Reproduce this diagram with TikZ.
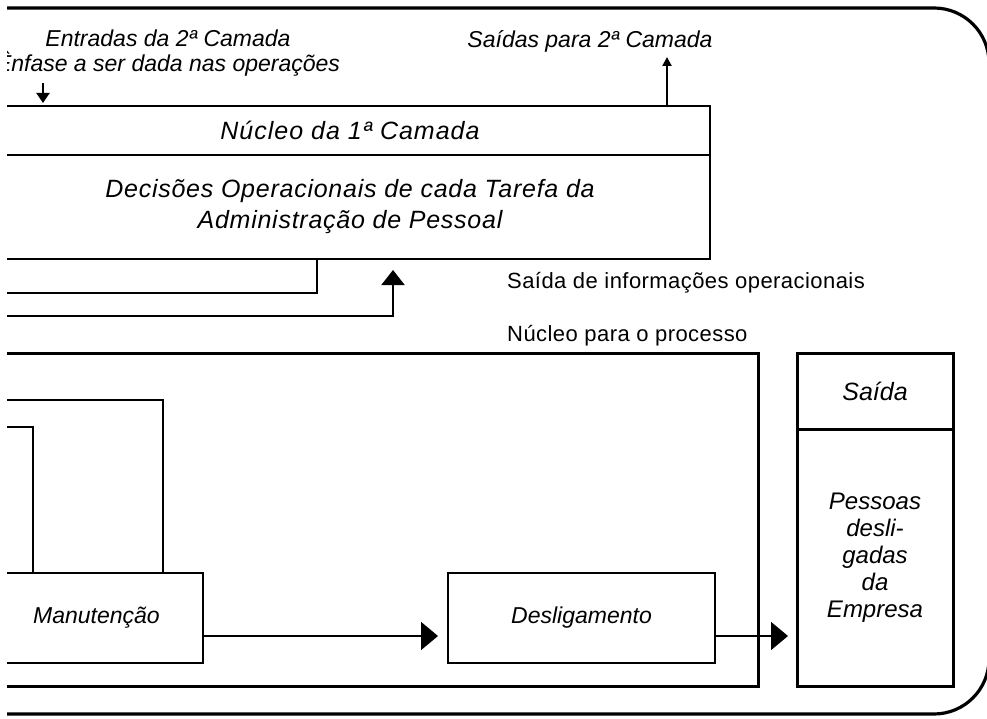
\documentclass[tikz,border=0pt]{standalone}
\usepackage{fontspec}
\setmainfont{Liberation Sans}
\newfontfamily\largoA[LetterSpace=4]{Liberation Sans}
\newfontfamily\largoB[LetterSpace=3]{Liberation Sans}
\newfontfamily\largoC[LetterSpace=2]{Liberation Sans}
\usetikzlibrary{positioning,arrows.meta}

\begin{document}
\begin{tikzpicture}[x=1pt,y=-1pt,
  caixa/.style={draw, line width=2.5pt, outer sep=0pt, inner sep=0pt, align=center},
  fio/.style={line width=2pt},
  seta/.style={line width=1.8pt, -{Triangle[length=17pt,width=28pt]}},
  rotulo/.style={font=\fontsize{23}{25}\selectfont\itshape, inner sep=0pt},
  texto/.style={font=\largoC\fontsize{22}{26}\selectfont, inner sep=0pt}]
\useasboundingbox (0,0) rectangle (987,719);
\clip (7,0) rectangle (987,719);
% moldura
\draw[line width=3.2pt, rounded corners=55pt] (-10,8) -- (989,8) -- (989,714) -- (-10,714);

% 1a camada
\node[caixa, line width=2.8pt, anchor=north west, minimum width=720pt, minimum height=49pt,
  font=\largoA\fontsize{25}{29}\selectfont\itshape] (nucleo1) at (-10,106) {Núcleo da 1ª Camada};
\node[caixa, line width=2.8pt, below=0pt of nucleo1, minimum width=720pt, minimum height=104pt,
  font=\largoB\fontsize{25}{31}\selectfont\itshape] (decisoes)
  {Decisões Operacionais de cada Tarefa da\\Administração de Pessoal};
\node[rotulo, align=center, anchor=north] (entradas) at (168,30)
  {Entradas da 2ª Camada\\Ênfase a ser dada nas operações};
\node[rotulo, anchor=base] (saidas) at (590,48) {Saídas para 2ª Camada};
\coordinate (entra) at (43,83);
\coordinate (sai) at (667,57);
\draw[fio, -{Triangle[length=10pt,width=13pt]}, shorten >=3pt] (entra) -- (entra |- nucleo1.north);
\draw[fio, -{Triangle[length=9pt,width=9pt]}] (sai |- nucleo1.north) -- (sai);

% retornos
\coordinate (esq1) at (-10,293);
\coordinate (dobra1) at (317,293);
\coordinate (esq2) at (-10,316);
\coordinate (dobra2) at (393,316);
\draw[fio] (dobra1 |- decisoes.south) -- (dobra1) -- (esq1);
\draw[fio, -{Triangle[length=15pt,width=23pt]}, shorten >=11pt] (esq2) -- (dobra2) -- (dobra2 |- decisoes.south);
\node[texto, anchor=base west] (lblinfo) at (507,288) {Saída de informações operacionais};
\node[texto, anchor=base west] (lblprocesso) at (507,341) {Núcleo para o processo};

% processo
\node[caixa, line width=3pt, anchor=north west, minimum width=768pt, minimum height=333pt] (processo) at (-10,353) {};
\node[caixa, anchor=north west, minimum width=213pt, minimum height=90pt,
  font=\fontsize{23}{27}\selectfont\itshape] (manutencao) at (-10,573) {Manutenção};
\node[caixa, anchor=north west, minimum width=267pt, minimum height=90pt,
  font=\fontsize{23}{27}\selectfont\itshape] (desligamento) at (448,573) {Desligamento};
\coordinate (esq3) at (-10,400);
\coordinate (dobra3) at (163,400);
\coordinate (esq4) at (-10,427);
\coordinate (dobra4) at (33,427);
\draw[fio] (esq3) -- (dobra3) -- (dobra3 |- manutencao.north);
\draw[fio] (esq4) -- (dobra4) -- (dobra4 |- manutencao.north);

% saida
\node[caixa, line width=3pt, anchor=north west, minimum width=156pt, minimum height=76pt,
  font=\fontsize{25}{29}\selectfont\itshape] (saida) at (797,353) {Saída};
\node[caixa, line width=3pt, below=0pt of saida, minimum width=156pt, minimum height=257pt,
  font=\fontsize{24}{27}\selectfont\itshape] (pessoas) {Pessoas\\desli-\\gadas\\da\\Empresa};

\coordinate (fluxo) at (0,636);
\draw[seta, shorten >=10pt] (manutencao.east |- fluxo) -- (desligamento.west |- fluxo);
\draw[seta, shorten >=9pt] (desligamento.east |- fluxo) -- (pessoas.west |- fluxo);
\end{tikzpicture}
\end{document}
